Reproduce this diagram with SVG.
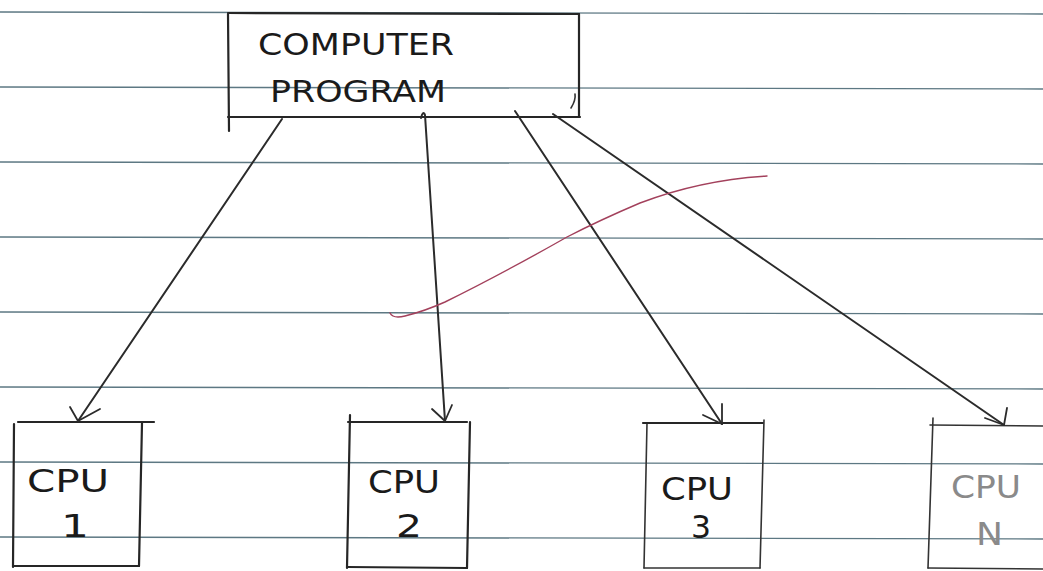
<svg xmlns="http://www.w3.org/2000/svg" width="1043" height="571" viewBox="0 0 1043 571">
  <style>
    .rule { stroke: #5d7883; stroke-width: 1.3; fill: none; }
    .pen { stroke: #262626; stroke-width: 2.2; fill: none; stroke-linecap: round; stroke-linejoin: round; }
    .thin { stroke: #333; stroke-width: 1.6; fill: none; stroke-linecap: round; }
    .wire { stroke: #2b2b2b; stroke-width: 2; fill: none; stroke-linecap: round; }
    .head { stroke: #2b2b2b; stroke-width: 1.8; fill: none; stroke-linecap: round; stroke-linejoin: round; }
    .hand { font-family: "DejaVu Sans", "Liberation Sans", sans-serif; font-weight: 400; fill: #1a1a1a; }
    .faint { fill: #8a8a8a; }
    .ink-red { stroke: #a3415c; stroke-width: 1.4; fill: none; stroke-linecap: round; }
  </style>

  <rect x="0" y="0" width="1043" height="571" fill="#ffffff"/>

  <!-- ruled paper -->
  <g id="rules">
    <line class="rule" x1="0" y1="12" x2="1043" y2="14"/>
    <line class="rule" x1="0" y1="87" x2="1043" y2="89"/>
    <line class="rule" x1="0" y1="162" x2="1043" y2="164"/>
    <line class="rule" x1="0" y1="237" x2="1043" y2="239"/>
    <line class="rule" x1="0" y1="312" x2="1043" y2="314"/>
    <line class="rule" x1="0" y1="387" x2="1043" y2="389"/>
    <line class="rule" x1="0" y1="462" x2="1043" y2="464"/>
    <line class="rule" x1="0" y1="537" x2="1043" y2="539"/>
  </g>

  <!-- program box -->
  <g id="program">
    <path class="pen" d="M228 14 L229 131"/>
    <path class="pen" d="M228 13 L579 14"/>
    <path class="pen" d="M579 14 L579 117"/>
    <path class="pen" d="M228 117 L580 117"/>
    <path class="thin" d="M571 108 Q576 100 575 94"/>
    <text class="hand" x="258" y="55" font-size="31" textLength="196" lengthAdjust="spacingAndGlyphs">COMPUTER</text>
    <text class="hand" x="270" y="102" font-size="31" textLength="176" lengthAdjust="spacingAndGlyphs">PROGRAM</text>
  </g>

  <!-- processors -->
  <g id="cpu1">
    <path class="pen" d="M14 424 L13 567"/>
    <path class="pen" d="M18 422 L154 422"/>
    <path class="pen" d="M142 423 L139 566"/>
    <path class="pen" d="M13 566 L139 566"/>
    <text class="hand" x="27" y="492" font-size="32" textLength="82" lengthAdjust="spacingAndGlyphs">CPU</text>
    <text class="hand" x="61" y="537" font-size="32" textLength="28" lengthAdjust="spacingAndGlyphs">1</text>
  </g>

  <g id="cpu2">
    <path class="pen" d="M350 415 L347 568"/>
    <path class="pen" d="M348 422 L467 422"/>
    <path class="pen" d="M470 422 L467 568"/>
    <path class="pen" d="M347 567 L467 568"/>
    <text class="hand" x="368" y="493" font-size="32" textLength="72" lengthAdjust="spacingAndGlyphs">CPU</text>
    <text class="hand" x="396" y="537" font-size="32" textLength="26" lengthAdjust="spacingAndGlyphs">2</text>
  </g>

  <g id="cpu3">
    <path class="thin" d="M647 423 L644 568"/>
    <path class="pen" d="M643 423 L763 423"/>
    <path class="thin" d="M764 420 L760 568"/>
    <path class="thin" d="M644 568 L760 568"/>
    <text class="hand" x="661" y="500" font-size="32" textLength="72" lengthAdjust="spacingAndGlyphs">CPU</text>
    <text class="hand" x="691" y="538" font-size="32" textLength="20" lengthAdjust="spacingAndGlyphs">3</text>
  </g>

  <g id="cpuN">
    <path class="thin" d="M933 418 L928 568"/>
    <path class="thin" d="M930 425 L1043 426"/>
    <path class="thin" d="M928 568 L1043 569"/>
    <text class="hand faint" x="951" y="498" font-size="32" textLength="70" lengthAdjust="spacingAndGlyphs">CPU</text>
    <text class="hand faint" x="976" y="545" font-size="32" textLength="27" lengthAdjust="spacingAndGlyphs">N</text>
  </g>

  <!-- fan-out arrows -->
  <g id="connectors">
    <path class="wire" d="M282 119 L78 421"/>
    <path class="head" d="M70 407 L78 421 L100 409"/>

    <path class="wire" d="M421 118 Q423 110 425 115 L445 421"/>
    <path class="head" d="M432 409 L445 421 L452 405"/>

    <path class="wire" d="M515 111 L722 424"/>
    <path class="head" d="M703 415 L722 424 L722 404"/>

    <path class="wire" d="M553 114 L1004 425"/>
    <path class="head" d="M985 418 L1004 425 L1007 408"/>
  </g>

  <!-- red pen stroke -->
  <path id="stroke" class="ink-red" d="M390 313 Q393 319 405 316 Q425 311 445 302 Q500 275 567 237 Q600 220 640 203 Q700 180 767 176"/>
</svg>
